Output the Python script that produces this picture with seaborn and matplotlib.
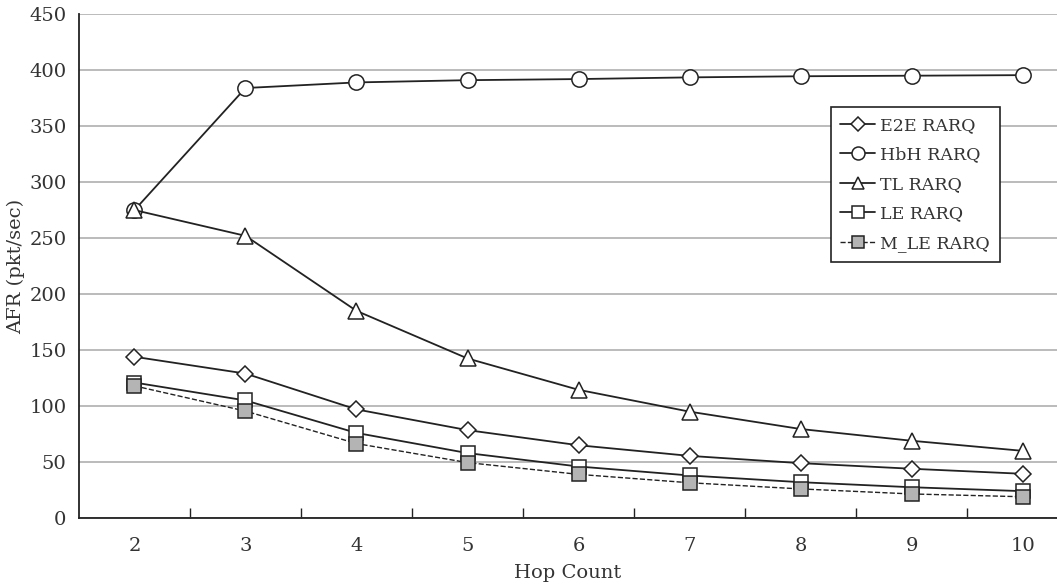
import numpy as np
import pandas as pd
import matplotlib
matplotlib.use('Agg')
import matplotlib.pyplot as plt
import seaborn as sns

# data
hop_count = [2, 3, 4, 5, 6, 7, 8, 9, 10]
e2e_rarq = [144, 129, 97, 78.5, 65, 55.5, 49, 44, 39.5]
hbh_rarq = [275, 384, 389, 391, 392, 393.5, 394.5, 395, 395.5]
tl_rarq = [275, 252, 185, 142.5, 114.5, 95, 79.5, 69, 60]
le_rarq = [121, 105, 76, 58, 46, 38, 32, 27.5, 24]
mle_rarq = [118, 95.5, 66.5, 49.5, 39, 31.5, 26, 21.5, 19]

sns.set_theme(style='white')
plt.rcParams['font.family'] = ['DejaVu Serif', 'DejaVu Sans']

fig = plt.figure(figsize=(10.57, 5.88), dpi=100)
ax = fig.add_axes([0.0747, 0.119, 0.9253, 0.857])

black = '#222222'
text_col = '#333333'
common = dict(ax=ax, color=black, linewidth=1.3, markeredgecolor=black,
              markeredgewidth=1.1)

sns.lineplot(x=hop_count, y=e2e_rarq, marker='D', markersize=8,
             markerfacecolor='white', label='E2E RARQ', **common)
sns.lineplot(x=hop_count, y=hbh_rarq, marker='o', markersize=11,
             markerfacecolor='white', label='HbH RARQ', **common)
sns.lineplot(x=hop_count, y=tl_rarq, marker='^', markersize=11,
             markerfacecolor='white', label='TL RARQ', **common)
sns.lineplot(x=hop_count, y=le_rarq, marker='s', markersize=10,
             markerfacecolor='white', label='LE RARQ', **common)
sns.lineplot(x=hop_count, y=mle_rarq, marker='s', markersize=10,
             markerfacecolor='#b4b4b4', linestyle='--', label='M_LE RARQ',
             **dict(common, linewidth=1.0))

ax.set_xlim(1.5, 10.31)
ax.set_ylim(0, 450)
ax.set_yticks(np.arange(0, 451, 50))
ax.set_xticks(hop_count)
ax.set_xticks(np.arange(2.5, 10.0, 1.0), minor=True)
ax.tick_params(axis='x', which='major', length=0, labelsize=14, pad=14,
               colors=text_col)
ax.tick_params(axis='x', which='minor', direction='in', length=7, width=1,
               color=black, bottom=True)
ax.tick_params(axis='y', length=0, labelsize=14, pad=9, colors=text_col)

ax.yaxis.grid(True, color='#a8a8a8', linewidth=1.1)
ax.xaxis.grid(False)
ax.set_axisbelow(True)

for side in ['top', 'right']:
    ax.spines[side].set_visible(False)
for side in ['left', 'bottom']:
    ax.spines[side].set_color(black)
    ax.spines[side].set_linewidth(1.3)

ax.set_xlabel('Hop Count', fontsize=14, color=text_col, labelpad=6)
ax.set_ylabel('AFR (pkt/sec)', fontsize=14, color=text_col, labelpad=3)

leg = ax.legend(loc='upper left', bbox_to_anchor=(0.76, 0.832),
                fontsize=12.5, frameon=True, fancybox=False, framealpha=1,
                edgecolor=black, borderpad=0.55, labelspacing=0.72,
                handlelength=2.0, handletextpad=0.3, markerscale=0.85)
leg.get_frame().set_linewidth(1.2)
for t in leg.get_texts():
    t.set_color(text_col)

fig.savefig('out.png', dpi=100, facecolor='white')
